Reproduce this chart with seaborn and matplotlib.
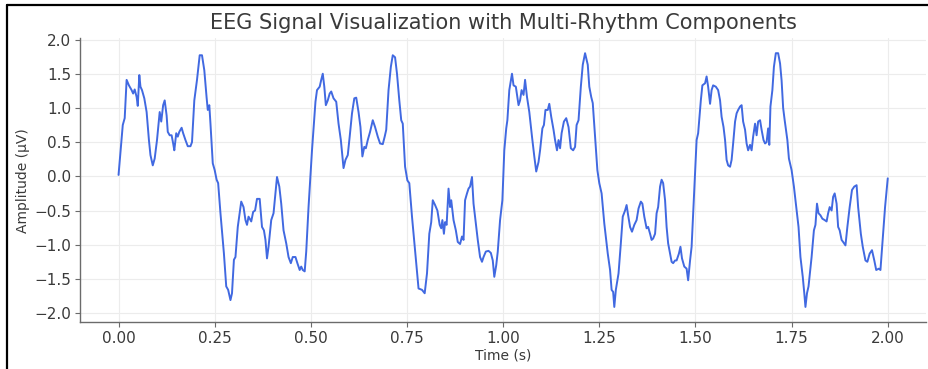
import matplotlib
matplotlib.use("Agg")
import matplotlib.pyplot as plt
from matplotlib.lines import Line2D
import seaborn as sns
import pandas as pd

# EEG trace: sample times (s) and amplitudes (µV)
time_s = [
    0.000, 0.011, 0.016, 0.021, 0.027, 0.034, 0.038, 0.042, 0.047, 0.050,
    0.054, 0.057, 0.061, 0.067, 0.073, 0.079, 0.083, 0.089, 0.094, 0.100,
    0.107, 0.111, 0.116, 0.120, 0.125, 0.128, 0.133, 0.138, 0.142, 0.145,
    0.150, 0.154, 0.158, 0.164, 0.168, 0.174, 0.180, 0.187, 0.191, 0.197,
    0.204, 0.211, 0.217, 0.223, 0.229, 0.232, 0.236, 0.239, 0.245, 0.250,
    0.255, 0.259, 0.265, 0.274, 0.280, 0.285, 0.291, 0.295, 0.300, 0.304,
    0.310, 0.319, 0.325, 0.330, 0.334, 0.338, 0.345, 0.350, 0.355, 0.360,
    0.367, 0.373, 0.378, 0.382, 0.386, 0.390, 0.397, 0.403, 0.408, 0.412,
    0.418, 0.423, 0.429, 0.436, 0.442, 0.448, 0.453, 0.460, 0.465, 0.471,
    0.475, 0.479, 0.484, 0.488, 0.494, 0.503, 0.512, 0.516, 0.523, 0.527,
    0.531, 0.535, 0.539, 0.544, 0.549, 0.553, 0.559, 0.566, 0.572, 0.578,
    0.585, 0.590, 0.596, 0.601, 0.607, 0.613, 0.618, 0.624, 0.629, 0.634,
    0.639, 0.643, 0.648, 0.654, 0.661, 0.667, 0.674, 0.680, 0.687, 0.692,
    0.696, 0.702, 0.708, 0.713, 0.719, 0.724, 0.730, 0.735, 0.739, 0.745,
    0.751, 0.756, 0.763, 0.771, 0.780, 0.789, 0.796, 0.802, 0.808, 0.813,
    0.817, 0.823, 0.829, 0.835, 0.839, 0.842, 0.846, 0.849, 0.853, 0.858,
    0.862, 0.865, 0.871, 0.877, 0.882, 0.888, 0.893, 0.897, 0.901, 0.906,
    0.910, 0.914, 0.919, 0.923, 0.929, 0.934, 0.940, 0.945, 0.949, 0.955,
    0.962, 0.968, 0.973, 0.977, 0.982, 0.986, 0.992, 0.998, 1.003, 1.008,
    1.011, 1.016, 1.023, 1.027, 1.033, 1.040, 1.044, 1.048, 1.053, 1.057,
    1.062, 1.068, 1.075, 1.081, 1.086, 1.092, 1.096, 1.102, 1.106, 1.110,
    1.116, 1.120, 1.125, 1.131, 1.135, 1.140, 1.144, 1.148, 1.152, 1.158,
    1.164, 1.170, 1.176, 1.182, 1.187, 1.191, 1.196, 1.202, 1.207, 1.213,
    1.220, 1.224, 1.229, 1.233, 1.239, 1.245, 1.250, 1.256, 1.263, 1.272,
    1.278, 1.282, 1.286, 1.289, 1.293, 1.300, 1.306, 1.311, 1.317, 1.321,
    1.325, 1.330, 1.335, 1.341, 1.347, 1.352, 1.358, 1.362, 1.367, 1.373,
    1.377, 1.382, 1.386, 1.390, 1.395, 1.399, 1.403, 1.408, 1.412, 1.416,
    1.421, 1.425, 1.429, 1.434, 1.438, 1.442, 1.447, 1.451, 1.457, 1.461,
    1.465, 1.471, 1.477, 1.481, 1.486, 1.490, 1.494, 1.499, 1.503, 1.507,
    1.514, 1.518, 1.525, 1.529, 1.533, 1.538, 1.542, 1.546, 1.553, 1.559,
    1.564, 1.568, 1.573, 1.577, 1.581, 1.585, 1.590, 1.594, 1.598, 1.603,
    1.607, 1.611, 1.616, 1.620, 1.624, 1.629, 1.633, 1.637, 1.642, 1.646,
    1.650, 1.655, 1.659, 1.663, 1.668, 1.672, 1.677, 1.681, 1.685, 1.689,
    1.692, 1.695, 1.700, 1.704, 1.709, 1.715, 1.720, 1.724, 1.728, 1.732,
    1.739, 1.743, 1.750, 1.756, 1.761, 1.768, 1.773, 1.779, 1.783, 1.786,
    1.790, 1.794, 1.802, 1.808, 1.812, 1.816, 1.820, 1.825, 1.830, 1.836,
    1.841, 1.845, 1.849, 1.854, 1.858, 1.862, 1.867, 1.871, 1.875, 1.880,
    1.884, 1.890, 1.895, 1.901, 1.907, 1.913, 1.919, 1.923, 1.930, 1.935,
    1.942, 1.947, 1.953, 1.959, 1.965, 1.970, 1.977, 1.981, 1.988, 1.993,
    2.000,
]

amplitude_uv = [
    0.02, 0.75, 0.85, 1.41, 1.33, 1.26, 1.21, 1.27, 1.16, 1.03,
    1.48, 1.31, 1.26, 1.14, 0.94, 0.53, 0.31, 0.16, 0.26, 0.53,
    0.94, 0.80, 1.04, 1.11, 0.89, 0.65, 0.60, 0.60, 0.48, 0.38,
    0.63, 0.58, 0.65, 0.71, 0.63, 0.53, 0.44, 0.44, 0.50, 1.11,
    1.41, 1.77, 1.77, 1.55, 1.15, 0.97, 1.04, 0.77, 0.19, 0.09,
    -0.05, -0.10, -0.54, -1.13, -1.61, -1.66, -1.81, -1.71, -1.22, -1.18,
    -0.74, -0.37, -0.45, -0.64, -0.71, -0.59, -0.66, -0.52, -0.50, -0.33,
    -0.33, -0.74, -0.79, -0.93, -1.20, -1.03, -0.64, -0.54, -0.25, -0.01,
    -0.15, -0.40, -0.79, -0.98, -1.18, -1.27, -1.18, -1.18, -1.27, -1.37,
    -1.32, -1.37, -1.39, -1.10, -0.45, 0.38, 1.09, 1.26, 1.31, 1.41,
    1.50, 1.31, 1.04, 1.11, 1.21, 1.24, 1.14, 1.09, 0.77, 0.53,
    0.12, 0.24, 0.31, 0.58, 0.92, 1.14, 1.15, 0.94, 0.72, 0.29,
    0.43, 0.41, 0.53, 0.65, 0.82, 0.72, 0.58, 0.48, 0.47, 0.58,
    0.68, 1.26, 1.60, 1.77, 1.74, 1.50, 1.11, 0.82, 0.77, 0.14,
    -0.06, -0.10, -0.59, -1.08, -1.64, -1.66, -1.71, -1.42, -0.84, -0.67,
    -0.35, -0.42, -0.50, -0.71, -0.76, -0.64, -0.84, -0.67, -0.71, -0.18,
    -0.45, -0.35, -0.64, -0.79, -0.96, -0.99, -0.88, -0.93, -0.35, -0.25,
    -0.18, -0.15, -0.01, -0.40, -0.69, -0.93, -1.18, -1.25, -1.18, -1.10,
    -1.09, -1.12, -1.23, -1.47, -1.30, -1.10, -0.64, -0.35, 0.38, 0.70,
    0.82, 1.26, 1.50, 1.33, 1.31, 1.04, 1.11, 1.26, 1.19, 1.41,
    1.16, 0.94, 0.58, 0.29, 0.07, 0.21, 0.38, 0.70, 0.75, 0.97,
    0.97, 1.06, 0.87, 0.68, 0.53, 0.38, 0.53, 0.41, 0.63, 0.80,
    0.85, 0.72, 0.41, 0.38, 0.43, 0.75, 0.82, 1.31, 1.63, 1.80,
    1.63, 1.31, 1.16, 1.07, 0.58, 0.09, -0.10, -0.25, -0.69, -1.13,
    -1.37, -1.66, -1.69, -1.91, -1.66, -1.42, -0.98, -0.59, -0.50, -0.42,
    -0.57, -0.74, -0.81, -0.71, -0.64, -0.47, -0.37, -0.40, -0.59, -0.76,
    -0.74, -0.84, -0.93, -0.91, -0.84, -0.54, -0.45, -0.15, -0.05, -0.10,
    -0.35, -0.74, -0.98, -1.13, -1.25, -1.27, -1.23, -1.23, -1.13, -1.03,
    -1.20, -1.32, -1.35, -1.52, -1.23, -1.03, -0.54, 0.04, 0.53, 0.63,
    1.11, 1.33, 1.36, 1.46, 1.31, 1.06, 1.26, 1.33, 1.31, 1.26,
    1.11, 0.87, 0.72, 0.53, 0.24, 0.16, 0.14, 0.24, 0.48, 0.80,
    0.92, 0.97, 1.02, 1.04, 0.80, 0.68, 0.48, 0.38, 0.46, 0.38,
    0.58, 0.77, 0.60, 0.80, 0.82, 0.68, 0.53, 0.48, 0.50, 0.70,
    0.46, 1.02, 1.26, 1.60, 1.80, 1.80, 1.65, 1.40, 1.00, 0.82,
    0.53, 0.26, 0.09, -0.15, -0.40, -0.74, -1.18, -1.47, -1.71, -1.91,
    -1.71, -1.61, -1.18, -0.79, -0.71, -0.40, -0.54, -0.57, -0.62, -0.64,
    -0.66, -0.54, -0.45, -0.50, -0.30, -0.25, -0.40, -0.74, -0.79, -0.93,
    -0.96, -1.01, -0.74, -0.45, -0.20, -0.15, -0.13, -0.45, -0.84, -1.03,
    -1.23, -1.25, -1.13, -1.08, -1.23, -1.37, -1.35, -1.37, -0.84, -0.45,
    -0.03,
]

x_ticks = [0.00, 0.25, 0.50, 0.75, 1.00, 1.25, 1.50, 1.75, 2.00]
y_ticks = [-2.0, -1.5, -1.0, -0.5, 0.0, 0.5, 1.0, 1.5, 2.0]

df = pd.DataFrame({"Time (s)": time_s, "Amplitude (µV)": amplitude_uv})

sns.set_theme(style="ticks")
plt.rcParams["font.family"] = ["DejaVu Sans"]

fig = plt.figure(figsize=(9.29, 3.69), dpi=100)
ax = fig.add_axes([0.0862, 0.1274, 0.9108, 0.7683])

sns.lineplot(data=df, x="Time (s)", y="Amplitude (µV)", ax=ax,
             color="royalblue", linewidth=1.4, estimator=None, sort=False)

ax.set_xlim(-0.1, 2.1)
ax.set_ylim(-2.13, 2.015)
ax.set_xticks(x_ticks)
ax.set_xticklabels([f"{v:.2f}" for v in x_ticks])
ax.set_yticks(y_ticks)
ax.set_yticklabels([f"{v:.1f}".replace("-", "\u2212") for v in y_ticks])

ax.grid(True, color="#ececec", linewidth=0.8)
sns.despine(ax=ax)
for side in ("left", "bottom"):
    ax.spines[side].set_color("#6b6b6b")
    ax.spines[side].set_linewidth(1.0)
ax.tick_params(axis="both", colors="#6b6b6b", labelcolor="#3a3a3a",
               labelsize=11, length=3.5, width=0.8, pad=3)

ax.set_title("EEG Signal Visualization with Multi-Rhythm Components",
             fontsize=15, color="#3a3a3a", pad=7)
ax.set_xlabel("Time (s)", fontsize=10, color="#3a3a3a", labelpad=2)
ax.set_ylabel("Amplitude (µV)", fontsize=10, color="#3a3a3a", labelpad=3)

# thin frame along the top and left edges of the canvas
fig.add_artist(Line2D([7 / 929, 1.0], [1 - 5 / 369, 1 - 5 / 369],
                      transform=fig.transFigure, color="black", linewidth=1.6))
fig.add_artist(Line2D([7 / 929, 7 / 929], [0.0, 1 - 5 / 369],
                      transform=fig.transFigure, color="black", linewidth=1.6))

fig.savefig("out.png", dpi=100)
